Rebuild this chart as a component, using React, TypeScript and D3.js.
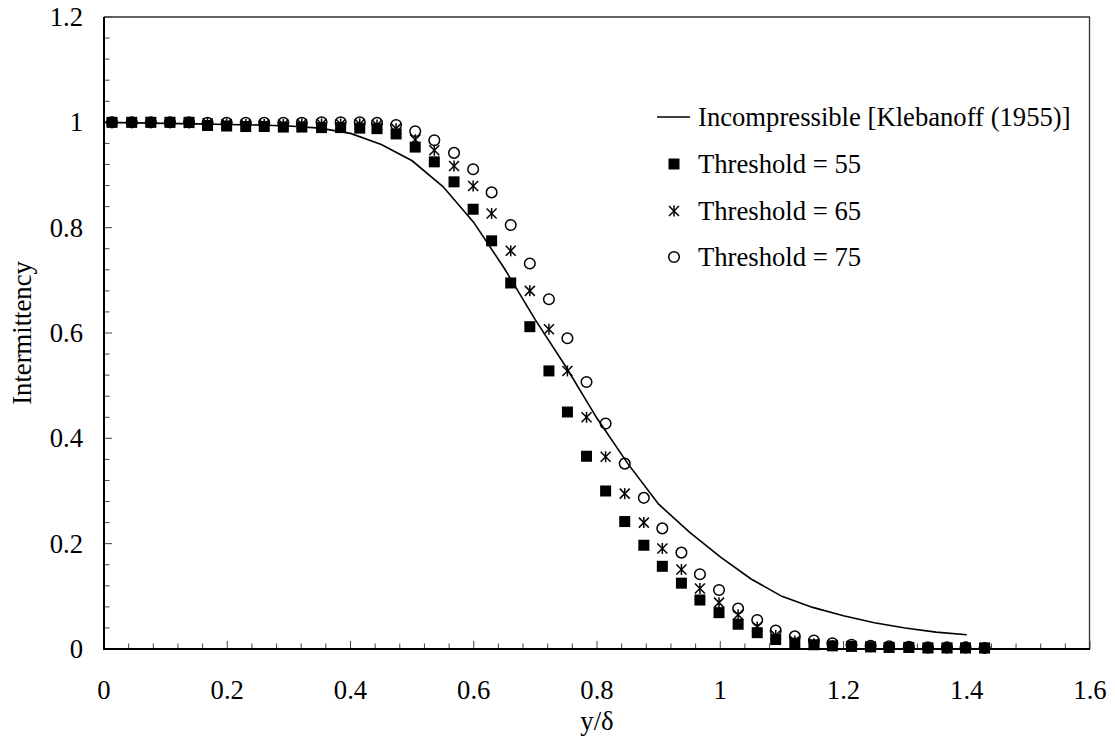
import React from "react";
import * as d3 from "d3";

const W = 1115;
const H = 738;
const FONT = '"Liberation Serif", "Times New Roman", Tinos, "DejaVu Serif", serif';
const FS = 26.67;

// y/δ positions of the measurement points
const xs = [
  0.013, 0.045, 0.076, 0.107, 0.138, 0.168, 0.199, 0.23, 0.26, 0.291, 0.321, 0.353,
  0.384, 0.415, 0.443, 0.474, 0.505, 0.536, 0.568, 0.599, 0.629, 0.66, 0.691, 0.722,
  0.752, 0.783, 0.814, 0.845, 0.876, 0.906, 0.937, 0.967, 0.998, 1.029, 1.06, 1.09,
  1.121, 1.152, 1.182, 1.213, 1.244, 1.274, 1.306, 1.337, 1.368, 1.398, 1.429,
];

const threshold55 = [
  1.0, 1.0, 1.0, 1.0, 1.0, 0.994, 0.993, 0.992, 0.992, 0.991, 0.991, 0.99,
  0.99, 0.989, 0.988, 0.978, 0.953, 0.925, 0.887, 0.835, 0.775, 0.695, 0.612, 0.528,
  0.45, 0.366, 0.3, 0.242, 0.197, 0.157, 0.125, 0.093, 0.069, 0.047, 0.031, 0.018,
  0.011, 0.008, 0.006, 0.005, 0.004, 0.003, 0.003, 0.002, 0.002, 0.002, 0.002,
];

const threshold65 = [
  1.0, 1.0, 1.0, 1.0, 0.999, 0.998, 0.997, 0.996, 0.996, 0.996, 0.997, 0.997,
  0.997, 0.997, 0.995, 0.988, 0.967, 0.947, 0.917, 0.879, 0.827, 0.756, 0.68, 0.607,
  0.528, 0.44, 0.365, 0.295, 0.24, 0.191, 0.151, 0.115, 0.088, 0.065, 0.042, 0.026,
  0.015, 0.01, 0.007, 0.005, 0.004, 0.003, 0.003, 0.002, 0.002, 0.002, 0.002,
];

const threshold75 = [
  1.0, 1.0, 1.0, 1.0, 1.0, 0.999, 0.999, 0.999, 0.999, 0.999, 0.999, 1.0,
  1.0, 1.0, 0.999, 0.995, 0.983, 0.966, 0.942, 0.911, 0.867, 0.805, 0.732, 0.664,
  0.59, 0.507, 0.428, 0.352, 0.287, 0.229, 0.183, 0.142, 0.112, 0.077, 0.055, 0.035,
  0.024, 0.016, 0.011, 0.008, 0.006, 0.005, 0.004, 0.003, 0.003, 0.003, 0.002,
];

// Klebanoff (1955) incompressible curve
const klebX = [
  0, 0.05, 0.1, 0.15, 0.2, 0.25, 0.3, 0.35, 0.4, 0.45, 0.5, 0.55, 0.6, 0.65, 0.7,
  0.75, 0.8, 0.85, 0.9, 0.95, 1.0, 1.05, 1.1, 1.15, 1.2, 1.25, 1.3, 1.35, 1.4,
];
const klebY = [
  1.0, 0.999, 0.998, 0.997, 0.996, 0.995, 0.993, 0.989, 0.979, 0.958, 0.927, 0.878,
  0.81, 0.722, 0.625, 0.535, 0.438, 0.352, 0.275, 0.222, 0.175, 0.133, 0.1, 0.079,
  0.063, 0.05, 0.04, 0.032, 0.027,
];

const xTickLabels = ["0", "0.2", "0.4", "0.6", "0.8", "1", "1.2", "1.4", "1.6"];
const yTickLabels = ["0", "0.2", "0.4", "0.6", "0.8", "1", "1.2"];

const legendLabels = [
  "Incompressible [Klebanoff (1955)]",
  "Threshold = 55",
  "Threshold = 65",
  "Threshold = 75",
];

const L = 104, R = 1090, T = 17, B = 649;
const txtStyle = { fontFamily: FONT, fontSize: FS + "px" } as React.CSSProperties;

function Square({ cx, cy }: { cx: number; cy: number }) {
  const s = 11;
  return <rect x={cx - s / 2} y={cy - s / 2} width={s} height={s} fill="#000" />;
}
function Star({ cx, cy }: { cx: number; cy: number }) {
  const a = 5.5;
  const d = 5;
  return (
    <g stroke="#000" strokeWidth={1.5} fill="none">
      <line x1={cx} y1={cy - a} x2={cx} y2={cy + a} />
      <line x1={cx - d} y1={cy - d} x2={cx + d} y2={cy + d} />
      <line x1={cx - d} y1={cy + d} x2={cx + d} y2={cy - d} />
    </g>
  );
}
function Circ({ cx, cy }: { cx: number; cy: number }) {
  return <circle cx={cx} cy={cy} r={5.3} fill="none" stroke="#000" strokeWidth={1.5} />;
}

export default function App() {
  const x = d3.scaleLinear().domain([0, 1.6]).range([L, R]);
  const y = d3.scaleLinear().domain([0, 1.2]).range([B, T]);

  const minorX = d3.range(0, 41).map((i) => i * 0.04);
  const minorY = d3.range(0, 31).map((i) => i * 0.04);
  const line = d3
    .line<number>()
    .x((_, i) => x(klebX[i]))
    .y((d) => y(d));

  const legX = 657;
  const legYs = [117, 164, 211, 257];

  return (
    <svg
      width={W}
      height={H}
      style={{ position: "absolute", left: 0, top: 0, background: "#fff", fontFamily: FONT }}
    >
      <rect x={0} y={0} width={W} height={H} fill="#fff" />
      {/* frame */}
      <line x1={L} y1={T} x2={R} y2={T} stroke="#333" strokeWidth={1.3} />
      <line x1={R - 0.5} y1={T} x2={R - 0.5} y2={B} stroke="#333" strokeWidth={1.3} />

      {/* ticks */}
      {minorX.map((v, i) => {
        const major = i % 5 === 0;
        return (
          <line
            key={"tx" + i}
            x1={x(v)}
            x2={x(v)}
            y1={B}
            y2={B - (major ? 8 : 5.5)}
            stroke="#444"
            strokeWidth={1}
          />
        );
      })}
      {minorY.map((v, i) => {
        const major = i % 5 === 0;
        return (
          <line
            key={"ty" + i}
            x1={L}
            x2={L + (major ? 8 : 5.5)}
            y1={y(v)}
            y2={y(v)}
            stroke="#444"
            strokeWidth={1}
          />
        );
      })}

      {/* axes */}
      <line x1={L} y1={T} x2={L} y2={B + 1} stroke="#000" strokeWidth={2} />
      <line x1={L - 1} y1={B} x2={R} y2={B} stroke="#000" strokeWidth={2} />

      {/* tick labels */}
      {xTickLabels.map((t) => (
        <text key={"xl" + t} x={x(+t)} y={699} textAnchor="middle" style={txtStyle} fill="#000">
          {t}
        </text>
      ))}
      {yTickLabels.map((t) => (
        <text key={"yl" + t} x={83} y={y(+t) + 9} textAnchor="end" style={txtStyle} fill="#000">
          {t}
        </text>
      ))}

      {/* axis titles */}
      <text x={(L + R) / 2} y={730} textAnchor="middle" style={txtStyle} fill="#000">
        y/δ
      </text>
      <text
        transform={`translate(${31},${(T + B) / 2}) rotate(-90)`}
        textAnchor="middle"
        style={txtStyle}
        fill="#000"
      >
        Intermittency
      </text>

      {/* Klebanoff line */}
      <path d={line(klebY) || ""} fill="none" stroke="#000" strokeWidth={1.6} />

      {/* series */}
      {threshold75.map((v, i) => (
        <Circ key={"c" + i} cx={x(xs[i])} cy={y(v)} />
      ))}
      {threshold65.map((v, i) => (
        <Star key={"s" + i} cx={x(xs[i])} cy={y(v)} />
      ))}
      {threshold55.map((v, i) => (
        <Square key={"q" + i} cx={x(xs[i])} cy={y(v)} />
      ))}

      {/* legend */}
      <line x1={legX} x2={legX + 33} y1={legYs[0]} y2={legYs[0]} stroke="#000" strokeWidth={1.6} />
      <Square cx={legX + 17} cy={legYs[1]} />
      <Star cx={legX + 17} cy={legYs[2]} />
      <Circ cx={legX + 17} cy={legYs[3]} />
      {legendLabels.map((t, i) => (
        <text key={"lg" + i} x={698} y={legYs[i] + 8.5} style={txtStyle} fill="#000">
          {t}
        </text>
      ))}
    </svg>
  );
}
